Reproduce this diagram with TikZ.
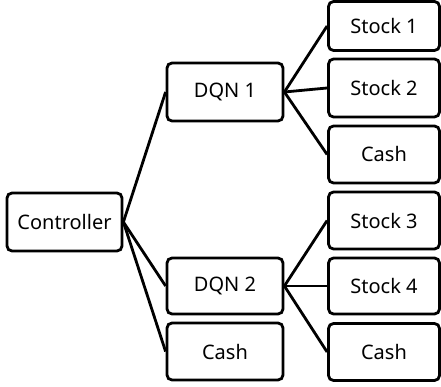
\documentclass[tikz,border=0pt]{standalone}
\usepackage{fontspec}
\setmainfont{Noto Sans}
\begin{document}
\begin{tikzpicture}[x=1pt,y=-1pt,
  box/.style={draw=black,line width=2.8pt,rounded corners=5pt,inner sep=0pt,
    font=\fontsize{20}{22}\selectfont,fill=white},
  link/.style={line width=2.8pt}]
\useasboundingbox (0,0) rectangle (441,387);
\node[box,minimum width=115pt,minimum height=58pt] (ctrl) at (64.5,222) {Controller};
\node[box,minimum width=116pt,minimum height=58pt] (dqn1) at (225,92) {DQN 1};
\node[box,minimum width=116pt,minimum height=56pt] (dqn2) at (225,286) {DQN 2};
\node[box,minimum width=116pt,minimum height=57pt] (cashm) at (225,351.5) {Cash};
\node[box,minimum width=111pt,minimum height=49pt] (s1) at (384,26) {Stock 1};
\node[box,minimum width=111pt,minimum height=58pt] (s2) at (384,88) {Stock 2};
\node[box,minimum width=111pt,minimum height=57pt] (c1) at (384,154.5) {Cash};
\node[box,minimum width=111pt,minimum height=57pt] (s3) at (384,220.5) {Stock 3};
\node[box,minimum width=111pt,minimum height=56pt] (s4) at (384,286) {Stock 4};
\node[box,minimum width=111pt,minimum height=57pt] (c2) at (384,352) {Cash};
\foreach \t in {dqn1,dqn2,cashm} \draw[link] (ctrl.east) -- (\t.west);
\foreach \t in {s1,s2,c1} \draw[link] (dqn1.east) -- (\t.west);
\foreach \t in {s3,s4,c2} \draw[link] (dqn2.east) -- (\t.west);
\end{tikzpicture}
\end{document}
